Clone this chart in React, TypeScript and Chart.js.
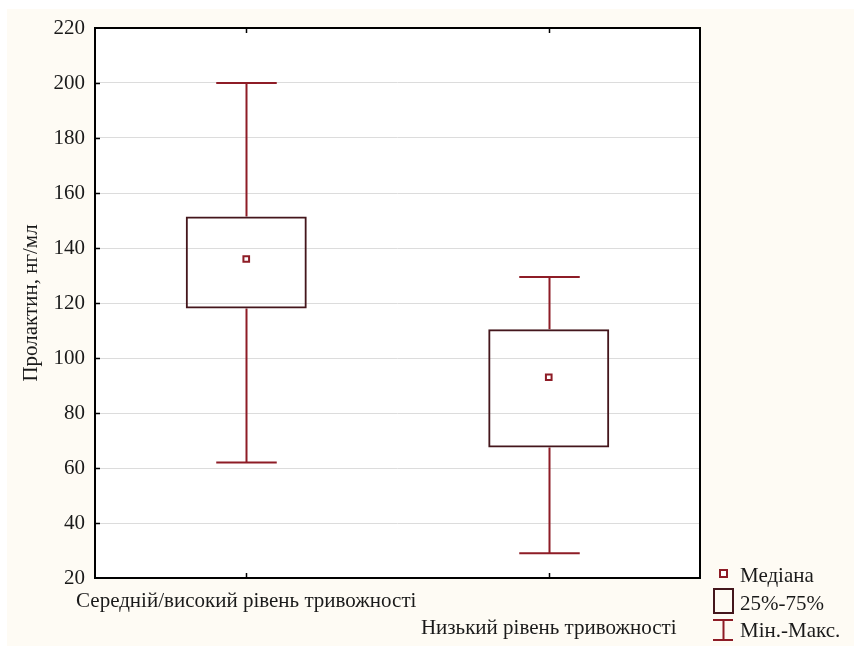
import React, { useEffect, useRef } from "react";
import { Chart, registerables } from "chart.js";

Chart.register(...registerables);

const categories = ["Середній/високий рівень тривожності", "Низький рівень тривожності"];
const q1 = [118, 67.5];
const q3 = [151.5, 110.5];
const medians = [136, 93];
const mins = [62, 29];
const maxs = [200, 129.5];
const yMin = 20;
const yMax = 220;
const yStep = 20;
const yTitle = "Пролактин, нг/мл";
const legendLabels = ["Медіана", "25%-75%", "Мін.-Макс."];

const FONT = '"Liberation Serif", "Times New Roman", serif';
const FS = 21;
const WHISKER = "#8e1c26";
const BOXC = "#44161c";

const boxPlugin = {
  id: "boxExtras",
  beforeDraw(chart: any) {
    const { ctx, chartArea: a } = chart;
    ctx.save();
    ctx.fillStyle = "#ffffff";
    ctx.fillRect(a.left, a.top, a.right - a.left, a.bottom - a.top);
    ctx.restore();
  },
  beforeDatasetsDraw(chart: any) {
    const { ctx } = chart;
    const xs = chart.scales.x;
    const ys = chart.scales.y;
    const meta = chart.getDatasetMeta(0);
    ctx.save();
    ctx.strokeStyle = WHISKER;
    ctx.lineWidth = 2;
    categories.forEach((_, i) => {
      const x = Math.round(xs.getPixelForValue(i)) + 0.5;
      const w = meta.data[i] ? meta.data[i].width : 120;
      const hw = w / 4;
      const yMaxP = ys.getPixelForValue(maxs[i]);
      const yMinP = ys.getPixelForValue(mins[i]);
      const yQ1 = ys.getPixelForValue(q1[i]);
      const yQ3 = ys.getPixelForValue(q3[i]);
      ctx.beginPath();
      ctx.moveTo(x, yMaxP);
      ctx.lineTo(x, yQ3);
      ctx.moveTo(x, yQ1);
      ctx.lineTo(x, yMinP);
      ctx.moveTo(x - hw, yMaxP);
      ctx.lineTo(x + hw, yMaxP);
      ctx.moveTo(x - hw, yMinP);
      ctx.lineTo(x + hw, yMinP);
      ctx.stroke();
    });
    ctx.restore();
  },
  afterDraw(chart: any) {
    const { ctx, chartArea: a } = chart;
    const xs = chart.scales.x;
    const ys = chart.scales.y;
    ctx.save();
    ctx.strokeStyle = "#000";
    ctx.lineWidth = 2;
    ctx.strokeRect(a.left, a.top, a.right - a.left, a.bottom - a.top);
    ctx.lineWidth = 1.5;
    ctx.beginPath();
    for (let v = yMin + yStep; v < yMax; v += yStep) {
      const y = Math.round(ys.getPixelForValue(v)) + 0.5;
      ctx.moveTo(a.left, y);
      ctx.lineTo(a.left + 5, y);
    }
    categories.forEach((_, i) => {
      const x = Math.round(xs.getPixelForValue(i)) + 0.5;
      ctx.moveTo(x, a.top);
      ctx.lineTo(x, a.top + 5);
      ctx.moveTo(x, a.bottom);
      ctx.lineTo(x, a.bottom - 5);
    });
    ctx.stroke();

    // legend
    const lx = a.right + 13;
    ctx.lineWidth = 2;
    ctx.strokeStyle = WHISKER;
    ctx.fillStyle = "#fff";
    ctx.fillRect(lx + 7, 561, 7, 7);
    ctx.strokeRect(lx + 7, 561, 7, 7);
    ctx.strokeStyle = BOXC;
    ctx.strokeRect(lx + 1, 580, 19, 24);
    ctx.strokeStyle = WHISKER;
    ctx.beginPath();
    ctx.moveTo(lx, 611);
    ctx.lineTo(lx + 20, 611);
    ctx.moveTo(lx + 10.5, 611);
    ctx.lineTo(lx + 10.5, 631);
    ctx.moveTo(lx, 631);
    ctx.lineTo(lx + 20, 631);
    ctx.stroke();
    ctx.fillStyle = "#1a1a1a";
    ctx.font = `${FS}px ${FONT}`;
    ctx.textBaseline = "alphabetic";
    ctx.textAlign = "left";
    const tx = lx + 27;
    ctx.fillText(legendLabels[0], tx, 573);
    ctx.fillText(legendLabels[1], tx, 601);
    ctx.fillText(legendLabels[2], tx, 628);
    ctx.restore();
  },
};

export default function App() {
  const ref = useRef<HTMLCanvasElement | null>(null);
  useEffect(() => {
    if (!ref.current) return;
    Chart.defaults.font.family = FONT;
    Chart.defaults.font.size = FS;
    Chart.defaults.color = "#1a1a1a";
    const chart = new Chart(ref.current, {
      type: "bar",
      data: {
        labels: categories,
        datasets: [
          {
            type: "bar",
            data: categories.map((_, i) => [q1[i], q3[i]]) as any,
            backgroundColor: "rgba(255,255,255,0)",
            borderColor: BOXC,
            borderWidth: 2,
            borderSkipped: false,
            barPercentage: 0.4,
            categoryPercentage: 1,
          },
          {
            type: "line",
            data: medians,
            showLine: false,
            pointStyle: "rect",
            pointRadius: 4,
            pointBorderWidth: 2,
            pointBackgroundColor: "#fff",
            pointBorderColor: WHISKER,
          } as any,
        ],
      },
      options: {
        responsive: false,
        animation: false,
        devicePixelRatio: 1,
        layout: { padding: { top: 19, right: 154, left: 0, bottom: 0 } },
        plugins: { legend: { display: false }, tooltip: { enabled: false } },
        scales: {
          x: {
            grid: { display: false, drawTicks: false },
            border: { display: false },
            ticks: {
              autoSkip: false,
              maxRotation: 0,
              minRotation: 0,
              padding: 10,
              font: { size: FS, lineHeight: 27 / FS },
              callback: function (this: any, v: any, i: number) {
                const l = this.getLabelForValue(v);
                return i % 2 === 0 ? [l, ""] : ["", l];
              },
            },
            afterFit: (s: any) => {
              s.height = 68;
            },
          },
          y: {
            min: yMin,
            max: yMax,
            grid: { color: "#dcdcdc", lineWidth: 1, drawTicks: false },
            border: { display: false },
            ticks: { stepSize: yStep, padding: 10, font: { size: FS } },
            title: {
              display: true,
              text: yTitle,
              font: { size: FS, lineHeight: 1.2 },
              padding: { top: 12, bottom: 0 },
            },
            afterFit: (s: any) => {
              s.width = 88;
              s.paddingTop = 0;
              s.paddingBottom = 0;
            },
          },
        },
      },
      plugins: [boxPlugin],
    });
    return () => chart.destroy();
  }, []);
  return (
    <div
      style={{
        position: "absolute",
        left: 7,
        top: 9,
        width: 847,
        height: 637,
        background: "#fefbf4",
      }}
    >
      <canvas ref={ref} width={847} height={637} style={{ display: "block" }} />
    </div>
  );
}
